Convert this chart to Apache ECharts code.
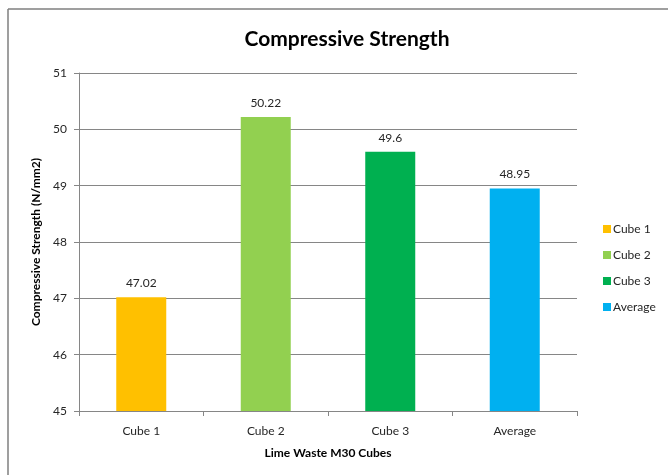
<!DOCTYPE html>
<html>
<head>
<meta charset="utf-8">
<script src="https://cdn.jsdelivr.net/npm/echarts@6/dist/echarts.min.js"></script>
<style>
  html, body { margin: 0; padding: 0; background: #fff; }
  #chart { width: 668px; height: 475px; }
</style>
</head>
<body>
<div id="chart"></div>
<script>
// data
const categories = ['Cube 1', 'Cube 2', 'Cube 3', 'Average'];
const seriesNames = ['Cube 1', 'Cube 2', 'Cube 3', 'Average'];
const values = [47.02, 50.22, 49.6, 48.95];
const colors = ['#FFC000', '#92D050', '#00B050', '#00B0F0'];

const font = 'Lato, "Open Sans", sans-serif';

let myChart = echarts.init(document.getElementById('chart'));

// one series per bar so the legend lists them, all on the same slot
let series = seriesNames.map((name, i) => ({
  name: name,
  type: 'bar',
  barWidth: 50,
  barGap: '-100%',
  itemStyle: { color: colors[i] },
  label: {
    show: true,
    position: 'top',
    distance: 8,
    color: '#262626',
    fontSize: 12,
    fontFamily: font
  },
  data: categories.map((c, j) => (j === i ? values[i] : null))
}));

let option = {
  backgroundColor: '#fff',
  animation: false,
  title: {
    text: 'Compressive Strength',
    left: 342,
    top: 24,
    textAlign: 'center',
    textStyle: { fontSize: 21, fontWeight: 'bold', color: '#000', fontFamily: font }
  },
  legend: {
    orient: 'vertical',
    left: 598,
    top: 218,
    itemWidth: 8,
    itemHeight: 8,
    itemGap: 14,
    icon: 'rect',
    textStyle: { fontSize: 12, color: '#262626', fontFamily: font, padding: [0, 0, 0, -3] },
    data: seriesNames
  },
  grid: {
    left: 79,
    right: 91,
    top: 73,
    bottom: 64,
    containLabel: false
  },
  xAxis: {
    type: 'category',
    data: categories,
    name: 'Lime Waste M30 Cubes',
    nameLocation: 'middle',
    nameGap: 36,
    nameTextStyle: { fontSize: 12, fontWeight: 'bold', color: '#000', fontFamily: font },
    axisLine: { lineStyle: { color: '#868686' } },
    axisTick: { show: true, length: 5, lineStyle: { color: '#868686' } },
    axisLabel: { fontSize: 12, color: '#262626', margin: 14, fontFamily: font }
  },
  yAxis: {
    type: 'value',
    min: 45,
    max: 51,
    interval: 1,
    name: 'Compressive Strength (N/mm2)',
    nameLocation: 'middle',
    nameRotate: 90,
    nameGap: 37,
    nameTextStyle: { fontSize: 12, fontWeight: 'bold', color: '#000', fontFamily: font },
    axisLine: { show: true, lineStyle: { color: '#868686' } },
    axisTick: { show: true, length: 5, lineStyle: { color: '#868686' } },
    axisLabel: { fontSize: 12, color: '#262626', margin: 12, fontFamily: font },
    splitLine: { lineStyle: { color: '#868686' } }
  },
  graphic: [
    { type: 'line', shape: { x1: 8, y1: 9, x2: 668, y2: 9 }, style: { stroke: '#7f7f7f', lineWidth: 1.5 } },
    { type: 'line', shape: { x1: 8, y1: 9, x2: 8, y2: 475 }, style: { stroke: '#7f7f7f', lineWidth: 1.5 } }
  ],
  series: series
};

option && myChart.setOption(option);
</script>
</body>
</html>
